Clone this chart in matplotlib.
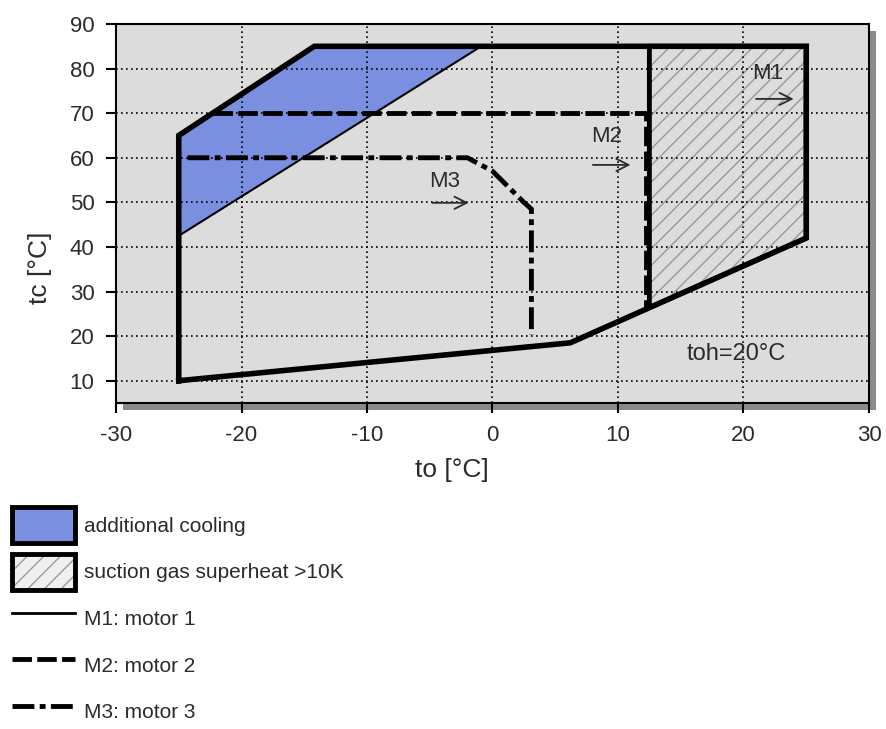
import matplotlib
matplotlib.use("Agg")
import matplotlib.pyplot as plt
from matplotlib.patches import Polygon, Patch, Rectangle
from matplotlib.lines import Line2D

plt.rcParams['font.family'] = ['Liberation Sans', 'DejaVu Sans']
plt.rcParams['hatch.linewidth'] = 1.0
plt.rcParams['axes.unicode_minus'] = False

# ---------------- data ----------------
# operating envelope, motor 1 (to, tc)
env_to = [-25, -25, -14.2, 25, 25, 6.2, -25]
env_tc = [10, 65, 85, 85, 42, 18.5, 10]

# additional cooling area
cool_to = [-25, -14.2, -0.9, -25]
cool_tc = [65, 85, 85, 42.5]

# suction gas superheat > 10K area
sh_to = [12.5, 25, 25, 12.5]
sh_tc = [85, 85, 42, 26.4]

# motor 2 limit
m2_to = [-22.3, 12.2, 12.2]
m2_tc = [70, 70, 26.4]

# motor 3 limit
m3_to = [-24.3, -2.0, 0.0, 2.5, 3.1, 3.1]
m3_tc = [60, 60, 57, 50, 48.5, 20.3]

# arrow labels
lab_names = ['M1', 'M2', 'M3']
lab_to = [21.9, 9.1, -3.8]
lab_tc = [79.0, 64.7, 54.6]
arr_from = [21.0, 8.0, -4.8]
arr_to = [24.0, 11.0, -1.9]
arr_tc = [73.2, 58.4, 49.9]

x_ticks = [-30, -20, -10, 0, 10, 20, 30]
y_ticks = [10, 20, 30, 40, 50, 60, 70, 80, 90]

legend_labels = ['additional cooling', 'suction gas superheat >10K',
                 'M1: motor 1', 'M2: motor 2', 'M3: motor 3']

blue = '#7b8fe0'
dash_m2 = (4, 1.1)
dash_m3 = (4.5, 1.1, 1.2, 1.1)

# ---------------- figure ----------------
W, H = 887, 729
fig = plt.figure(figsize=(W / 100, H / 100), dpi=100)
ax = fig.add_axes([116 / W, 1 - 403 / H, 753 / W, 379 / H])

# drop shadow behind the plot area
fig.patches.append(Rectangle((123 / W, 1 - 410 / H), 753 / W, 379 / H,
                             transform=fig.transFigure, facecolor='#8a8a8a',
                             edgecolor='none', zorder=-1))

ax.set_facecolor('#dcdcdc')
ax.set_xlim(-30, 30)
ax.set_ylim(5, 90)
ax.set_xticks(x_ticks)
ax.set_yticks(y_ticks)
ax.set_axisbelow('line')
ax.grid(True, color='black', linestyle=(0, (1, 2)), linewidth=1.2)
for s in ax.spines.values():
    s.set_color('black')
    s.set_linewidth(1.5)
ax.tick_params(direction='out', length=7.5, width=1.5, color='black',
               labelsize=16, labelcolor='#2b2b2b', pad=8)

# filled areas
ax.add_patch(Polygon(list(zip(cool_to, cool_tc)), closed=True,
                     facecolor=blue, edgecolor='black', linewidth=1.5, zorder=1))
ax.add_patch(Polygon(list(zip(sh_to, sh_tc)), closed=True, facecolor='none',
                     edgecolor='#999999', linewidth=0, hatch='//', zorder=1))
ax.add_patch(Polygon(list(zip(sh_to, sh_tc)), closed=True, fill=False,
                     edgecolor='black', linewidth=3.5, zorder=3))

# limit lines
ax.plot(env_to, env_tc, color='black', linewidth=4, solid_joinstyle='miter', zorder=4)
ax.plot(m2_to, m2_tc, color='black', linewidth=3.5, dashes=dash_m2, zorder=4)
ax.plot(m3_to, m3_tc, color='black', linewidth=3.5, dashes=dash_m3, zorder=4)

for name, tx, ty, a0, a1, ay in zip(lab_names, lab_to, lab_tc, arr_from, arr_to, arr_tc):
    ax.text(tx, ty, name, fontsize=16, color='#2b2b2b', ha='center', va='center', zorder=5)
    ax.annotate('', xy=(a1, ay), xytext=(a0, ay),
                arrowprops=dict(arrowstyle='->', color='#2b2b2b', lw=1.3,
                                mutation_scale=22, shrinkA=0, shrinkB=0), zorder=5)

ax.text(19.4, 16, 'toh=20°C', fontsize=17, color='#2b2b2b', ha='center', va='center', zorder=5)

ax.set_xlabel('to [°C]', fontsize=19, color='#2b2b2b')
ax.set_ylabel('tc [°C]', fontsize=19, color='#2b2b2b')
ax.xaxis.set_label_coords(0.446, -0.145)
ax.yaxis.set_label_coords(-0.085, 0.356)

# legend below the chart
handles = [
    Patch(facecolor=blue, edgecolor='black', linewidth=3.5),
    (Patch(facecolor='#f0f0f0', edgecolor='#9a9a9a', linewidth=0, hatch='//'),
     Patch(facecolor='none', edgecolor='black', linewidth=3.5)),
    Line2D([], [], color='black', linewidth=2),
    Line2D([], [], color='black', linewidth=3.5, dashes=dash_m2),
    Line2D([], [], color='black', linewidth=3.5, dashes=dash_m3),
]
leg = fig.legend(handles, legend_labels, loc='upper left',
                 bbox_to_anchor=(12 / W, 1 - 507 / H), frameon=False,
                 fontsize=15, handlelength=3.0, handleheight=2.3,
                 labelspacing=0.5, handletextpad=0.45, borderpad=0,
                 borderaxespad=0)
for t in leg.get_texts():
    t.set_color('#2b2b2b')

fig.savefig('out.png', dpi=100, facecolor='white')
